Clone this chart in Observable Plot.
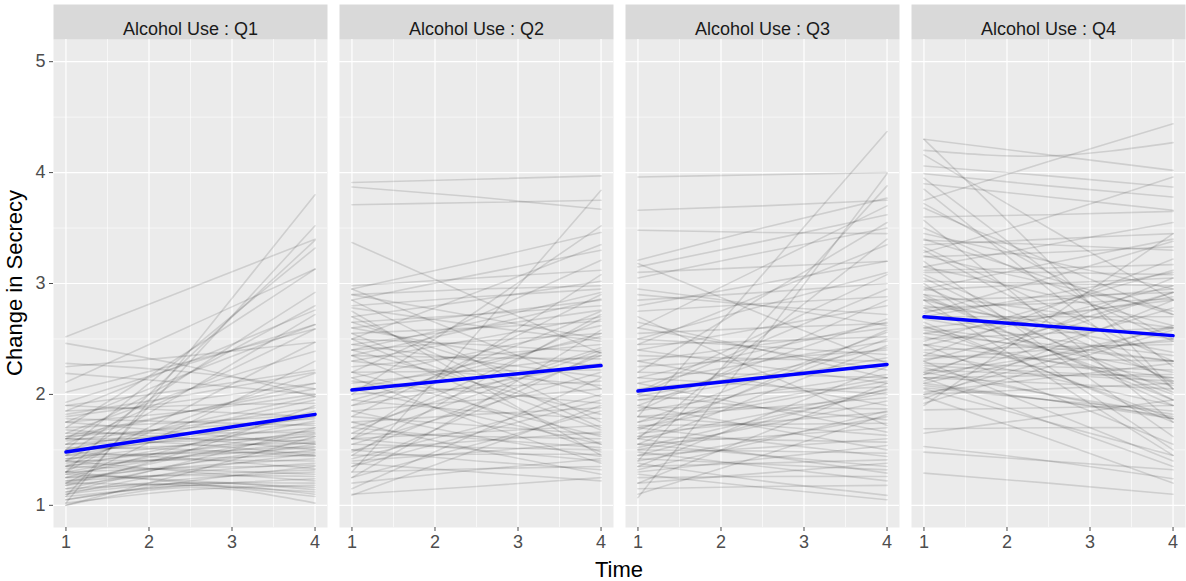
<!DOCTYPE html>
<html><head><meta charset="utf-8">
<script src="https://cdn.jsdelivr.net/npm/d3@7"></script>
<script src="https://cdn.jsdelivr.net/npm/@observablehq/plot@0.6"></script>
<style>body{margin:0;background:#fff;}</style>
</head><body><div id="chart"></div>
<script>
// Facets and time points (each gray trajectory: value at time 1, 2.5, 4)
const quartiles = ["Q1", "Q2", "Q3", "Q4"];
const times = [1, 2.5, 4];
const xTicks = [1, 2, 3, 4];
const yTicks = [1, 2, 3, 4, 5];
const xMinor = [1.5, 2.5, 3.5];
const yMinor = [1.5, 2.5, 3.5, 4.5];

// Average (blue) trajectories, value at time 1 and time 4
const blueStart = [1.48, 2.04, 2.03, 2.70];
const blueEnd = [1.82, 2.26, 2.27, 2.53];

const q1Lines = [
[2.52,2.96,3.40],[2.46,2.25,1.98],[2.28,2.20,2.05],[2.25,2.35,2.47],[2.19,2.10,2.00],
[2.11,2.62,3.13],[2.02,2.30,2.59],[1.93,2.28,2.63],[1.02,2.40,3.80],[1.08,2.30,3.52],
[1.30,2.35,3.39],[1.50,2.40,3.32],[1.70,2.40,3.13],[1.45,2.20,2.92],[1.60,2.20,2.80],
[1.85,2.30,2.76],[1.40,2.05,2.72],[1.75,2.20,2.63],[1.55,2.05,2.59],[1.30,1.90,2.47],
[1.65,2.05,2.39],[1.20,1.75,2.30],[1.90,2.05,2.22],[1.35,1.80,2.19],[1.80,1.95,2.10],
[1.62,1.85,2.05],[1.75,1.85,2.00],[1.50,1.75,1.98],[1.40,1.70,1.95],[1.85,1.90,1.92],
[1.58,1.72,1.88],[1.25,1.55,1.85],[1.70,1.75,1.82],[1.45,1.62,1.80],[1.62,1.70,1.78],
[1.35,1.55,1.76],[1.55,1.65,1.74],[1.78,1.75,1.72],[1.48,1.60,1.70],[1.30,1.50,1.68],
[1.65,1.65,1.66],[1.42,1.55,1.65],[1.20,1.45,1.64],[1.55,1.58,1.62],[1.38,1.50,1.60],
[1.60,1.60,1.58],[1.28,1.45,1.57],[1.50,1.54,1.56],[1.15,1.38,1.55],[1.42,1.48,1.53],
[1.33,1.44,1.52],[1.68,1.60,1.50],[1.22,1.38,1.50],[1.45,1.47,1.48],[1.10,1.32,1.47],
[1.36,1.42,1.45],[1.52,1.50,1.44],[1.25,1.35,1.42],[1.40,1.41,1.40],[1.18,1.30,1.38],
[1.30,1.34,1.36],[1.05,1.22,1.35],[1.48,1.42,1.33],[1.22,1.28,1.32],[1.12,1.24,1.30],
[1.35,1.32,1.28],[1.25,1.27,1.26],[1.08,1.18,1.24],[1.40,1.30,1.22],[1.15,1.20,1.20],
[1.02,1.14,1.18],[1.28,1.22,1.16],[1.00,1.16,1.02],[1.05,1.18,1.10],[1.10,1.20,1.14],
[1.20,1.18,1.12],[1.30,1.20,1.08],[1.60,1.55,1.45],[1.75,1.65,1.55],[1.90,1.85,1.80],
[1.82,2.00,2.20],[1.12,1.40,1.70],[1.00,1.30,1.62],[1.18,1.50,1.90],[1.60,1.85,2.10]
];

const q2Lines = [
[3.91,3.94,3.97],[3.87,3.78,3.67],[3.71,3.73,3.75],[3.37,2.87,2.37],[1.30,2.55,3.84],
[2.00,2.75,3.52],[2.95,3.20,3.46],[2.50,2.92,3.35],[2.85,3.08,3.30],[2.20,2.70,3.21],
[2.98,3.05,3.12],[1.60,2.35,3.08],[2.70,2.85,3.02],[2.90,2.95,2.98],[2.40,2.65,2.92],
[1.80,2.35,2.90],[2.60,2.72,2.85],[2.95,2.50,2.05],[2.85,2.30,1.75],[2.75,2.10,1.45],
[2.65,2.72,2.80],[2.45,2.60,2.76],[1.45,2.10,2.72],[2.30,2.50,2.70],[2.55,2.60,2.66],
[2.15,2.38,2.62],[1.25,1.90,2.58],[2.40,2.48,2.55],[2.05,2.28,2.52],[2.78,2.62,2.48],
[2.25,2.35,2.45],[1.70,2.05,2.42],[2.50,2.45,2.38],[2.10,2.22,2.35],[2.35,2.33,2.32],
[1.90,2.08,2.28],[2.60,2.40,2.25],[2.20,2.21,2.22],[1.55,1.88,2.20],[2.45,2.30,2.16],
[2.00,2.06,2.12],[2.30,2.18,2.08],[1.85,1.95,2.05],[2.65,2.30,1.98],[1.35,1.65,1.95],
[2.12,2.02,1.92],[1.75,1.82,1.88],[2.40,2.10,1.82],[1.95,1.85,1.78],[1.60,1.66,1.72],
[2.55,2.10,1.68],[1.50,1.58,1.66],[1.80,1.72,1.64],[2.20,1.90,1.62],[1.65,1.62,1.60],
[1.40,1.48,1.57],[2.05,1.80,1.55],[1.70,1.60,1.52],[1.55,1.52,1.50],[2.35,1.90,1.48],
[1.45,1.46,1.46],[1.85,1.62,1.44],[1.20,1.32,1.42],[1.60,1.50,1.40],[2.15,1.75,1.38],
[1.30,1.33,1.35],[1.50,1.40,1.32],[1.75,1.50,1.28],[1.10,1.17,1.25],[1.38,1.30,1.22],
[1.15,1.65,2.15],[1.09,1.50,1.90],[1.25,1.55,1.85],[1.35,1.85,2.38],[1.60,2.00,2.40],
[1.48,1.92,2.35],[2.90,2.70,2.50],[2.80,2.88,2.95],[2.35,2.60,2.86],[1.65,2.15,2.68],
[1.90,2.30,2.75],[2.50,2.02,1.55],[2.70,2.20,1.70],[1.95,2.25,2.55],[1.42,1.70,2.00]
];

const q3Lines = [
[3.96,3.98,4.00],[3.66,3.70,3.75],[3.48,3.46,3.45],[1.07,2.50,3.99],[1.80,3.08,4.37],
[1.40,2.65,3.88],[3.21,3.50,3.77],[2.60,3.15,3.70],[3.15,3.38,3.62],[2.20,2.88,3.55],
[3.05,3.28,3.50],[1.60,2.52,3.40],[2.95,2.80,2.62],[3.18,2.72,2.28],[3.10,3.15,3.20],
[2.50,2.80,3.10],[2.85,2.92,3.00],[2.00,2.48,2.95],[2.75,2.82,2.88],[2.40,2.60,2.80],
[2.90,2.80,2.72],[1.90,2.30,2.68],[2.55,2.60,2.64],[2.30,2.45,2.60],[2.65,2.40,2.15],
[1.75,2.15,2.56],[2.45,2.48,2.52],[2.10,2.30,2.48],[2.70,2.20,1.72],[1.55,2.00,2.44],
[2.25,2.32,2.40],[2.50,2.43,2.36],[1.95,2.14,2.33],[2.35,2.32,2.30],[2.05,2.16,2.26],
[2.60,2.40,2.22],[1.85,2.02,2.18],[2.20,2.18,2.15],[1.70,1.92,2.12],[2.40,2.25,2.10],
[1.95,2.01,2.07],[1.60,1.82,2.04],[2.15,2.08,2.00],[1.80,1.88,1.97],[1.50,1.72,1.94],
[2.30,2.10,1.90],[1.88,1.88,1.87],[1.65,1.75,1.84],[1.40,1.60,1.80],[2.00,1.88,1.77],
[1.72,1.73,1.74],[1.55,1.62,1.70],[2.10,1.88,1.66],[1.80,1.72,1.63],[1.45,1.52,1.60],
[1.62,1.59,1.57],[1.30,1.42,1.54],[1.90,1.70,1.50],[1.50,1.49,1.47],[1.70,1.57,1.44],
[1.35,1.38,1.41],[1.20,1.29,1.38],[1.55,1.45,1.35],[1.42,1.37,1.32],[1.60,1.45,1.29],
[1.25,1.26,1.26],[1.48,1.35,1.22],[1.15,1.17,1.18],[1.38,1.22,1.09],[1.28,1.16,1.05],
[1.10,1.45,1.82],[1.20,1.65,2.10],[1.35,1.80,2.25],[1.62,2.10,2.58],[2.45,2.90,3.35],
[2.80,3.00,3.20],[1.45,1.75,2.05],[1.75,1.95,2.15],[2.15,2.40,2.65],[1.52,1.78,2.02],
[1.98,2.20,2.42],[1.68,2.08,2.50],[2.02,2.55,3.08],[1.32,1.58,1.85],[1.85,2.35,2.85]
];

const q4Lines = [
[4.30,4.16,4.02],[4.30,3.20,2.05],[4.20,4.15,4.27],[4.16,3.50,2.85],[4.06,3.97,3.87],
[3.99,3.88,3.78],[3.95,3.10,2.25],[3.90,3.78,3.66],[3.85,2.95,2.05],[3.75,4.10,4.44],
[3.68,3.20,2.72],[3.57,2.65,1.75],[3.39,3.35,3.30],[3.33,2.80,2.30],[3.28,3.60,3.96],
[3.24,3.28,3.33],[3.20,2.40,1.62],[3.12,3.14,3.17],[3.08,2.60,2.12],[3.02,3.00,2.98],
[2.97,2.50,2.02],[2.94,3.00,3.05],[2.90,2.40,1.90],[2.85,2.88,2.92],[2.80,2.65,2.50],
[2.73,3.05,3.38],[2.70,2.70,2.70],[2.65,2.20,1.75],[2.60,2.72,2.85],[2.55,2.42,2.30],
[2.50,2.55,2.60],[2.45,2.00,1.55],[2.40,2.43,2.45],[2.35,2.78,3.22],[2.28,2.25,2.22],
[2.24,2.00,1.78],[2.18,2.60,3.05],[2.15,2.17,2.18],[2.10,2.35,2.60],[2.06,1.95,1.85],
[2.02,2.15,2.28],[1.90,2.68,3.45],[1.86,1.88,1.90],[1.69,1.70,1.70],[1.65,1.80,1.95],
[1.53,1.40,1.24],[1.48,1.40,1.32],[1.29,1.20,1.10],[3.60,3.62,3.65],[3.45,3.20,2.95],
[3.30,2.70,2.10],[3.15,2.90,2.62],[3.05,2.50,1.95],[2.95,3.18,3.40],[2.88,2.40,1.95],
[2.78,2.82,2.86],[2.68,2.50,2.35],[2.58,2.40,2.20],[2.52,2.30,2.08],[2.44,2.70,2.98],
[2.38,2.15,1.90],[2.32,2.40,2.48],[2.26,2.20,2.15],[2.20,2.00,1.82],[2.12,2.45,2.78],
[2.08,1.95,1.80],[2.00,2.05,2.10],[1.96,2.40,2.85],[1.92,2.25,2.58],[2.78,2.40,2.00],
[2.62,2.20,1.78],[3.72,3.10,2.50],[3.50,3.00,2.48],[2.30,1.85,1.40],[2.05,1.75,1.45],
[2.85,2.15,1.45],[3.00,2.25,1.50],[2.20,2.55,2.92],[2.48,2.80,3.12],[3.40,3.05,2.72],
[2.15,1.75,1.35],[2.70,2.90,3.10],[3.10,3.10,3.08],[2.35,2.32,2.30],[1.98,1.60,1.20],
[2.22,2.18,2.12],[2.18,2.35,2.50],[2.10,1.95,1.78],[2.30,2.60,2.92],[2.45,2.30,2.15],
[2.60,2.45,2.30],[2.75,2.85,2.95],[2.90,2.75,2.60],[3.25,3.00,2.75],[3.35,3.40,3.45],
[2.00,2.30,2.62],[2.15,2.10,2.05],[2.55,2.70,2.88],[2.85,2.60,2.38],[3.15,3.35,3.55]
];

const linesByQ = {Q1: q1Lines, Q2: q2Lines, Q3: q3Lines, Q4: q4Lines};
const rows = [];
for (const q of quartiles) {
  linesByQ[q].forEach((vals, i) => {
    vals.forEach((v, k) => rows.push({q, id: q + "-" + i, time: times[k], value: v}));
  });
}
const blueRows = quartiles.flatMap((q, i) => [
  {q, time: 1, value: blueStart[i]},
  {q, time: 4, value: blueEnd[i]}
]);

const W = 1186, H = 581, mt = 39, mb = 54, ml = 53, mr = 1;
const font = "'Liberation Sans', Arial, Helvetica, sans-serif";

const chart = Plot.plot({
  width: W, height: H,
  marginTop: mt, marginBottom: mb, marginLeft: ml, marginRight: mr,
  style: {fontFamily: font, fontSize: "18px", background: "#fff"},
  x: {domain: [0.85, 4.15]},
  y: {domain: [0.8, 5.2]},
  fx: {domain: quartiles, paddingInner: 12 / 286, paddingOuter: 0, axis: null},
  marks: [
    Plot.frame({fill: "#ebebeb"}),
    Plot.frame({fill: "#d9d9d9", insetTop: -35, insetBottom: H - mt - mb}),
    Plot.ruleX(xMinor, {stroke: "#fff", strokeWidth: 0.6}),
    Plot.ruleY(yMinor, {stroke: "#fff", strokeWidth: 0.6}),
    Plot.ruleX(xTicks, {stroke: "#fff", strokeWidth: 1.2}),
    Plot.ruleY(yTicks, {stroke: "#fff", strokeWidth: 1.2}),
    Plot.line(rows, {fx: "q", x: "time", y: "value", z: "id", stroke: "#000",
      strokeOpacity: 0.12, strokeWidth: 1.6, curve: "natural"}),
    Plot.line(blueRows, {fx: "q", x: "time", y: "value", stroke: "#0000ff", strokeWidth: 3.5}),
    Plot.text(quartiles, {fx: d => d, text: d => "Alcohol Use : " + d, frameAnchor: "top",
      dy: -17, fill: "#1a1a1a", fontSize: 18}),
    Plot.axisX({ticks: xTicks, tickFormat: d3.format("d"), tickSize: 4, tickPadding: 4,
      label: null, color: "#4d4d4d", fontSize: 18}),
    Plot.axisY({ticks: yTicks, tickFormat: d3.format("d"), tickSize: 4, tickPadding: 4,
      label: null, color: "#4d4d4d", fontSize: 18})
  ]
});
document.getElementById("chart").appendChild(chart);

const svg = d3.select(chart);
svg.append("text")
  .attr("x", (ml + W - mr) / 2).attr("y", 577)
  .attr("text-anchor", "middle").attr("font-family", font).attr("font-size", 22)
  .attr("fill", "#000").text("Time");
svg.append("text")
  .attr("transform", `translate(22,${(mt + H - mb) / 2}) rotate(-90)`)
  .attr("text-anchor", "middle").attr("font-family", font).attr("font-size", 22)
  .attr("fill", "#000").text("Change in Secrecy");
</script>
</body></html>
